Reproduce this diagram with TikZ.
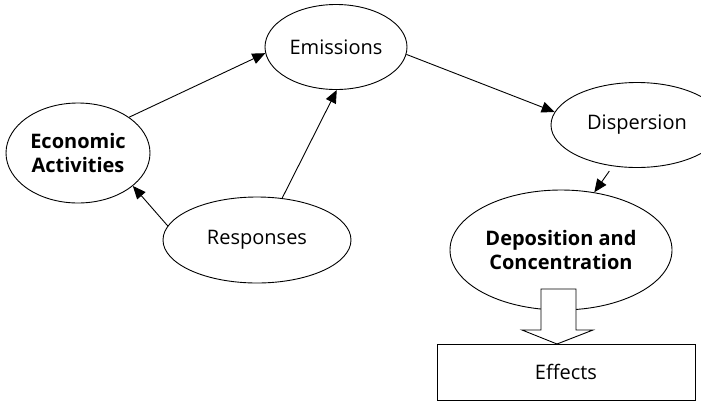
\documentclass[tikz,border=0pt]{standalone}
\usepackage{fontspec}
\setmainfont{Open Sans}
\usepackage{tikz}
\usetikzlibrary{shapes.geometric,arrows.meta}
\tikzset{
    oval-node/.style = {draw=black, fill=white, line width=0.9pt, ellipse, inner sep=0pt, align=center, font=\fontsize{20}{24}\selectfont},
    oval-bold/.style = {oval-node, font=\fontsize{20}{24}\selectfont\bfseries},
    effects-box/.style = {draw=black, fill=white, line width=0.9pt, rectangle, inner sep=0pt, minimum width=258pt, minimum height=56pt, font=\fontsize{20}{24}\selectfont},
    flow-arrow/.style = {draw=black, line width=0.9pt, -{Triangle[length=13pt,width=11pt]}},
    block-arrow/.style = {draw=black, fill=white, line width=0.9pt},
}

\begin{document}
\begin{tikzpicture}[x=1pt,y=-1pt]
\useasboundingbox (0,0) rectangle (701,402);
% ovals
\node [oval-node, minimum width=142pt, minimum height=85pt] (emis) at (336,47) {Emissions};
\node [oval-bold, minimum width=144pt, minimum height=100pt] (econ) at (78,153) {Economic\\Activities};
\node [oval-node, minimum width=188pt, minimum height=86pt] (resp) at (257,240) {Responses};
\node [oval-node, minimum width=172pt, minimum height=85pt] (disp) at (637,125) {Dispersion};
\node [oval-bold, minimum width=222pt, minimum height=120pt] (depo) at (561,250) {Deposition and\\Concentration};
\node [effects-box] (eff) at (566,372) {Effects};
% connectors
\draw [flow-arrow] (econ.35) -- (emis.185);
\draw [flow-arrow] (resp.59) -- (emis.271);
\draw [flow-arrow] (resp.171) -- (econ.329);
\draw [flow-arrow] (emis.354) -- (disp.171);
\draw [flow-arrow] ([shift={(-2,5)}]disp.238) -- (depo.60);
% block arrow down to the box
\coordinate (tip) at (557,344);
\draw [block-arrow] ([shift={(-16,-55)}]tip) -- ([shift={(19,-55)}]tip) -- ([shift={(19,-14)}]tip)
    -- ([shift={(36,-14)}]tip) -- (tip) -- ([shift={(-35,-14)}]tip) -- ([shift={(-16,-14)}]tip) -- cycle;
\end{tikzpicture}
\end{document}
